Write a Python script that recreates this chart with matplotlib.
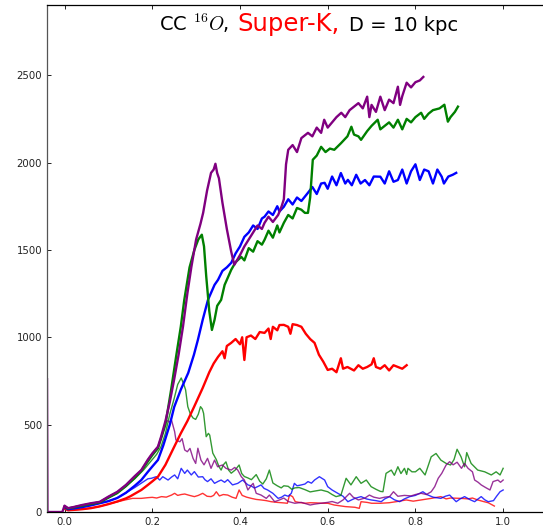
import matplotlib
matplotlib.use("Agg")
import matplotlib.pyplot as plt

# ---------------- data ----------------
# thick purple
pur_x = [-0.04, -0.039, -0.005, 0.0, 0.008, 0.02, 0.04, 0.06, 0.08, 0.1, 0.12, 0.14, 0.16, 0.175, 0.19, 0.2,
         0.213, 0.22, 0.23, 0.24, 0.25, 0.26, 0.27, 0.28, 0.289, 0.30, 0.31, 0.316, 0.325, 0.334, 0.34, 0.344,
         0.348, 0.352, 0.36, 0.37, 0.38, 0.387, 0.393, 0.40, 0.41, 0.42, 0.43, 0.44, 0.45, 0.456, 0.465, 0.475,
         0.487, 0.495, 0.50, 0.505, 0.51, 0.52, 0.53, 0.54, 0.555, 0.565, 0.575, 0.585, 0.592, 0.60, 0.61, 0.62,
         0.631, 0.64, 0.65, 0.66, 0.67, 0.68, 0.69, 0.695, 0.70, 0.71, 0.72, 0.73, 0.74, 0.75, 0.76, 0.765,
         0.77, 0.78, 0.79, 0.80, 0.81, 0.818]
pur_y = [760, 0, 0, 36, 22, 28, 40, 50, 58, 88, 115, 155, 205, 240, 300, 335,
         374, 430, 520, 630, 760, 900, 1060, 1250, 1400, 1560, 1650, 1712, 1840, 1941, 1960, 1993,
         1940, 1910, 1770, 1620, 1490, 1415, 1440, 1470, 1520, 1560, 1600, 1640, 1620, 1655, 1690, 1660,
         1700, 1750, 1790, 1990, 2073, 2100, 2060, 2140, 2170, 2150, 2200, 2170, 2245, 2200, 2230, 2260,
         2285, 2260, 2300, 2320, 2340, 2310, 2377, 2260, 2330, 2290, 2377, 2300, 2360, 2340, 2434, 2330,
         2380, 2457, 2430, 2460, 2470, 2490]

# thick green
grn_x = [0.0, 0.008, 0.02, 0.04, 0.06, 0.08, 0.1, 0.12, 0.14, 0.16, 0.175, 0.19, 0.2, 0.213, 0.22, 0.23,
         0.243, 0.255, 0.265, 0.273, 0.285, 0.296, 0.305, 0.313, 0.318, 0.323, 0.33, 0.336, 0.342, 0.348,
         0.357, 0.365, 0.372, 0.38, 0.39, 0.403, 0.41, 0.42, 0.43, 0.44, 0.45, 0.456, 0.465, 0.475, 0.485,
         0.49, 0.50, 0.51, 0.52, 0.53, 0.54, 0.548, 0.555, 0.56, 0.566, 0.575, 0.585, 0.595, 0.605, 0.615,
         0.63, 0.645, 0.654, 0.66, 0.67, 0.676, 0.69, 0.70, 0.714, 0.72, 0.73, 0.74, 0.75, 0.76, 0.77, 0.78,
         0.79, 0.80, 0.813, 0.82, 0.83, 0.84, 0.855, 0.866, 0.874, 0.88, 0.89, 0.897]
grn_y = [30, 20, 26, 36, 46, 55, 82, 108, 148, 195, 235, 290, 325, 365, 420, 500,
         700, 900, 1060, 1214, 1400, 1500, 1560, 1587, 1520, 1350, 1150, 1042, 1100, 1180,
         1214, 1300, 1340, 1386, 1430, 1460, 1440, 1510, 1490, 1550, 1530, 1558, 1610, 1570, 1640,
         1600, 1655, 1700, 1680, 1740, 1730, 1712, 1712, 1800, 2016, 2040, 2090, 2060, 2080, 2073,
         2110, 2150, 2205, 2160, 2150, 2130, 2180, 2210, 2245, 2190, 2210, 2230, 2200, 2245, 2190, 2250,
         2230, 2260, 2285, 2250, 2280, 2300, 2310, 2331, 2234, 2260, 2290, 2320]

# thick blue
blu_x = [0.0, 0.008, 0.02, 0.04, 0.06, 0.08, 0.1, 0.12, 0.14, 0.16, 0.175, 0.19, 0.2, 0.213, 0.225, 0.24,
         0.25, 0.265, 0.282, 0.295, 0.304, 0.315, 0.327, 0.335, 0.342, 0.35, 0.36, 0.37, 0.38, 0.39, 0.40,
         0.41, 0.42, 0.43, 0.44, 0.45, 0.456, 0.465, 0.475, 0.485, 0.49, 0.50, 0.51, 0.52, 0.53, 0.54, 0.555,
         0.565, 0.575, 0.585, 0.593, 0.60, 0.61, 0.62, 0.63, 0.64, 0.646, 0.655, 0.665, 0.675, 0.685, 0.695,
         0.705, 0.72, 0.73, 0.74, 0.75, 0.76, 0.77, 0.78, 0.79, 0.80, 0.81, 0.82, 0.83, 0.84, 0.85, 0.86,
         0.865, 0.875, 0.885, 0.893]
blu_y = [28, 16, 20, 28, 38, 50, 62, 80, 110, 150, 183, 230, 260, 298, 380, 500,
         601, 700, 796, 900, 985, 1100, 1214, 1260, 1300, 1329, 1380, 1400, 1426, 1480, 1520,
         1575, 1600, 1640, 1620, 1680, 1690, 1720, 1700, 1750, 1720, 1747, 1790, 1760, 1800, 1780, 1827,
         1860, 1820, 1880, 1884, 1850, 1920, 1870, 1940, 1880, 1901, 1870, 1930, 1880, 1900, 1870,
         1920, 1919, 1880, 1950, 1890, 1900, 1960, 1880, 1950, 1990, 1900, 1960, 1950, 1880, 1960, 1919,
         1880, 1920, 1930, 1941]

# thick red
red_x = [0.0, 0.008, 0.02, 0.04, 0.06, 0.08, 0.1, 0.12, 0.14, 0.15, 0.175, 0.19, 0.2, 0.213, 0.23, 0.25,
         0.265, 0.28, 0.295, 0.315, 0.33, 0.34, 0.35, 0.36, 0.365, 0.37, 0.38, 0.39, 0.40, 0.405, 0.41,
         0.415, 0.425, 0.435, 0.445, 0.456, 0.465, 0.47, 0.475, 0.485, 0.49, 0.50, 0.51, 0.515, 0.52, 0.53,
         0.54, 0.55, 0.56, 0.57, 0.58, 0.59, 0.60, 0.61, 0.62, 0.625, 0.63, 0.635, 0.645, 0.66, 0.67, 0.68,
         0.69, 0.70, 0.705, 0.71, 0.72, 0.73, 0.74, 0.75, 0.76, 0.77, 0.78]
red_y = [20, 10, 12, 16, 22, 32, 45, 60, 78, 90, 126, 155, 175, 202, 270, 373,
         450, 520, 600, 710, 800, 850, 888, 920, 880, 950, 968, 990, 960, 1000, 870,
         1000, 1010, 990, 1030, 1025, 1050, 990, 1060, 1040, 1070, 1071, 1060, 1020, 1075, 1070,
         1060, 1020, 990, 968, 900, 860, 813, 820, 800, 840, 880, 820, 830, 810, 840, 820,
         830, 845, 880, 830, 820, 840, 810, 840, 830, 820, 840]

# thin green
tgrn_x = [0.0, 0.008, 0.02, 0.04, 0.06, 0.08, 0.1, 0.12, 0.14, 0.16, 0.18, 0.2, 0.21, 0.22, 0.23, 0.24,
          0.25, 0.258, 0.266, 0.272, 0.276, 0.281, 0.287, 0.293, 0.299, 0.305, 0.31, 0.314, 0.317, 0.323,
          0.328, 0.331, 0.338, 0.346, 0.352, 0.357, 0.362, 0.368, 0.374, 0.38, 0.389, 0.398, 0.404, 0.41,
          0.418, 0.426, 0.437, 0.445, 0.452, 0.46, 0.467, 0.475, 0.485, 0.494, 0.50, 0.51, 0.518, 0.525,
          0.535, 0.548, 0.56, 0.571, 0.585, 0.60, 0.61, 0.619, 0.63, 0.642, 0.653, 0.665, 0.676, 0.688,
          0.699, 0.71, 0.72, 0.726, 0.733, 0.745, 0.752, 0.76, 0.767, 0.775, 0.78, 0.783, 0.792, 0.80, 0.81,
          0.822, 0.836, 0.847, 0.858, 0.87, 0.88, 0.888, 0.895, 0.904, 0.912, 0.917, 0.927, 0.942, 0.958,
          0.973, 0.984, 0.993, 1.0]
tgrn_y = [30, 20, 26, 36, 46, 55, 82, 108, 148, 190, 240, 300, 330, 374, 450, 560,
          650, 730, 767, 730, 699, 603, 560, 538, 530, 560, 603, 590, 565, 431,
          450, 440, 337, 300, 260, 240, 270, 287, 240, 222, 240, 269, 220, 203,
          195, 185, 214, 176, 160, 190, 240, 166, 150, 138, 150, 147, 130, 138,
          140, 128, 115, 120, 126, 116, 100, 88, 95, 193, 155, 202, 164, 183,
          145, 130, 118, 116, 221, 240, 210, 259, 220, 250, 215, 250, 230, 230, 250,
          212, 316, 335, 297, 278, 269, 300, 359, 316, 259, 340, 278, 240, 230,
          212, 230, 212, 250]

# thin purple
tpur_x = [0.0, 0.008, 0.02, 0.04, 0.06, 0.08, 0.1, 0.12, 0.14, 0.16, 0.175, 0.19, 0.2, 0.213, 0.222,
          0.228, 0.232, 0.238, 0.244, 0.251, 0.254, 0.263, 0.268, 0.274, 0.28, 0.286, 0.293, 0.299, 0.304,
          0.311, 0.318, 0.326, 0.334, 0.342, 0.349, 0.355, 0.36, 0.368, 0.38, 0.388, 0.395, 0.403, 0.41,
          0.418, 0.425, 0.43, 0.437, 0.448, 0.46, 0.467, 0.479, 0.49, 0.50, 0.51, 0.525, 0.54, 0.56, 0.57,
          0.584, 0.60, 0.61, 0.623, 0.635, 0.65, 0.658, 0.67, 0.685, 0.695, 0.705, 0.718, 0.73, 0.741, 0.75,
          0.76, 0.775, 0.79, 0.80, 0.813, 0.825, 0.836, 0.844, 0.852, 0.86, 0.87, 0.878, 0.886, 0.895, 0.905,
          0.912, 0.92, 0.93, 0.935, 0.943, 0.95, 0.96, 0.97, 0.977, 0.988, 0.994, 1.0]
tpur_y = [36, 22, 28, 40, 50, 58, 88, 115, 155, 205, 240, 300, 335, 374, 440,
          500, 527, 515, 525, 460, 412, 402, 420, 355, 345, 364, 307, 278, 365,
          297, 270, 307, 250, 297, 259, 265, 269, 250, 240, 255, 240, 202, 183,
          126, 150, 164, 107, 97, 78, 97, 59, 69, 80, 60, 50, 55, 40, 45,
          50, 55, 60, 50, 69, 107, 85, 69, 80, 97, 85, 78, 85, 88, 116,
          90, 95, 92, 100, 107, 100, 116, 145, 193, 221, 269, 288, 270, 285, 250,
          278, 250, 230, 183, 170, 155, 140, 126, 174, 183, 170, 183]

# thin blue
tblu_x = [0.0, 0.008, 0.02, 0.04, 0.06, 0.08, 0.1, 0.12, 0.14, 0.16, 0.175, 0.19, 0.198, 0.209, 0.217,
          0.224, 0.236, 0.244, 0.251, 0.258, 0.266, 0.274, 0.28, 0.289, 0.296, 0.305, 0.315, 0.32, 0.326,
          0.334, 0.342, 0.35, 0.357, 0.365, 0.372, 0.383, 0.395, 0.406, 0.418, 0.425, 0.433, 0.44, 0.448,
          0.455, 0.463, 0.475, 0.487, 0.495, 0.502, 0.51, 0.517, 0.524, 0.53, 0.54, 0.548, 0.555, 0.563,
          0.57, 0.581, 0.593, 0.60, 0.61, 0.623, 0.635, 0.646, 0.655, 0.662, 0.676, 0.688, 0.699, 0.71,
          0.722, 0.73, 0.741, 0.752, 0.764, 0.775, 0.787, 0.80, 0.81, 0.817, 0.826, 0.84, 0.858, 0.868,
          0.878, 0.893, 0.902, 0.912, 0.925, 0.935, 0.943, 0.95, 0.958, 0.966, 0.978, 0.985, 0.993, 1.0]
tblu_y = [28, 16, 20, 28, 38, 50, 62, 80, 110, 140, 165, 190, 193, 202, 183,
          202, 183, 200, 212, 190, 250, 221, 240, 212, 231, 200, 202, 185, 174,
          190, 164, 175, 183, 170, 185, 155, 164, 183, 155, 150, 137, 145, 155,
          135, 126, 107, 78, 85, 97, 90, 107, 164, 150, 155, 160, 174, 165,
          183, 202, 183, 145, 126, 107, 90, 59, 70, 78, 88, 75, 69, 65,
          59, 75, 88, 70, 59, 75, 88, 95, 107, 116, 100, 85, 78, 90,
          97, 59, 75, 88, 70, 59, 75, 88, 70, 59, 65, 90, 116, 126]

# thin red
tred_x = [0.0, 0.008, 0.02, 0.04, 0.06, 0.08, 0.1, 0.12, 0.14, 0.155, 0.175, 0.19, 0.2, 0.21, 0.221,
          0.232, 0.244, 0.251, 0.258, 0.266, 0.274, 0.285, 0.296, 0.305, 0.315, 0.325, 0.334, 0.34, 0.346,
          0.353, 0.362, 0.372, 0.382, 0.391, 0.398, 0.405, 0.415, 0.426, 0.437, 0.448, 0.46, 0.471, 0.485,
          0.5, 0.508, 0.513, 0.52, 0.526, 0.535, 0.548, 0.56, 0.575, 0.585, 0.60, 0.615, 0.64, 0.662, 0.672,
          0.676, 0.69, 0.70, 0.72, 0.74, 0.756, 0.779, 0.795, 0.813, 0.836, 0.858, 0.87, 0.88, 0.904, 0.92,
          0.93, 0.942, 0.955, 0.966, 0.98]
tred_y = [20, 10, 12, 16, 22, 32, 45, 58, 70, 78, 78, 82, 84, 80, 88,
          85, 97, 107, 95, 100, 103, 95, 88, 95, 107, 90, 88, 95, 116,
          92, 100, 97, 85, 78, 126, 95, 85, 78, 72, 69, 65, 59, 55,
          52, 50, 97, 88, 59, 55, 50, 53, 52, 50, 50, 40, 31, 27, 21,
          59, 55, 50, 50, 53, 59, 69, 62, 69, 78, 88, 75, 80, 78, 75,
          80, 69, 60, 53, 34]

x_ticks = [0.0, 0.2, 0.4, 0.6, 0.8, 1.0]
y_ticks = [0, 500, 1000, 1500, 2000, 2500]

# ---------------- figure ----------------
plt.rcParams['mathtext.fontset'] = 'cm'
W, H, DPI = 543, 531, 100
fig = plt.figure(figsize=(W / DPI, H / DPI), dpi=DPI)
fig.patch.set_facecolor('white')

left_px, right_px, top_px, bot_px = 47, 547, 5.3, 512
ax = fig.add_axes([left_px / W, (H - bot_px) / H, (right_px - left_px) / W, (bot_px - top_px) / H])

thin = dict(lw=1.0, alpha=0.8)
ax.plot(tred_x, tred_y, color='red', **thin)
ax.plot(tblu_x, tblu_y, color='blue', **thin)
ax.plot(tgrn_x, tgrn_y, color='green', **thin)
ax.plot(tpur_x, tpur_y, color='purple', **thin)

thick = dict(lw=1.7)
ax.plot(red_x, red_y, color='red', **thick)
ax.plot(blu_x, blu_y, color='blue', **thick)
ax.plot(grn_x, grn_y, color='green', **thick)
ax.plot(pur_x, pur_y, color='purple', **thick)

ax.set_xlim(-0.04, 1.1)
ax.set_ylim(0, 2900)
ax.set_xticks(x_ticks)
ax.set_xticklabels([f"{v:.1f}" for v in x_ticks])
ax.set_yticks(y_ticks)
ax.set_yticklabels([str(v) for v in y_ticks])
ax.tick_params(direction='in', length=3, width=0.6, labelsize=7.3, pad=3.5,
               top=True, right=True, colors='black', labelcolor='#222222')
for s in ax.spines.values():
    s.set_linewidth(0.9)
ax.spines['left'].set_color('#555555')

# title built from three pieces
yb = 1 - 31 / H
fig.text(159 / W, yb, r"CC $^{16}O$,", fontsize=14, color='black', va='baseline', ha='left')
fig.text(237 / W, yb, "Super-K,", fontsize=17.5, color='red', va='baseline', ha='left')
fig.text(349 / W, yb, "D = 10 kpc", fontsize=14, color='black', va='baseline', ha='left')

fig.savefig("out.png", dpi=DPI, facecolor='white')
